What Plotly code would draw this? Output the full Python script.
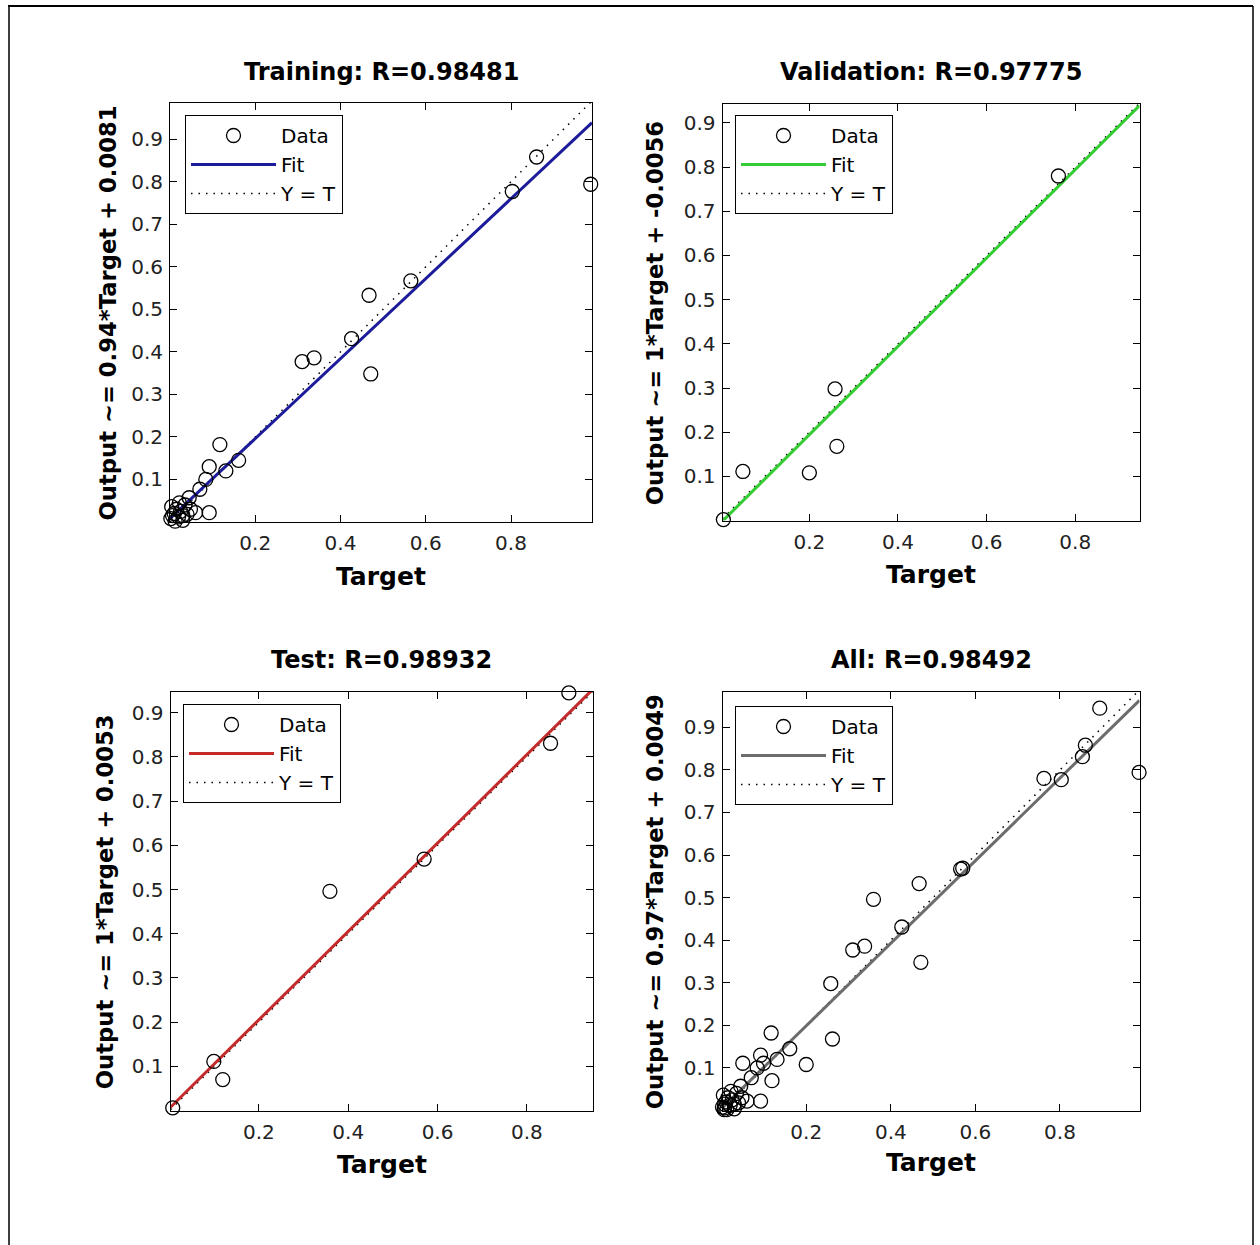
import plotly.graph_objects as go

W, H = 1260, 1245

# ---------------- data ----------------
train_target = [0.860, 0.987, 0.803, 0.565, 0.467, 0.426, 0.310, 0.338, 0.471,
                0.117, 0.161, 0.092, 0.131, 0.084, 0.070, 0.045, 0.092, 0.060,
                0.004, 0.010, 0.002, 0.015, 0.020, 0.025, 0.030, 0.035, 0.040,
                0.012, 0.048, 0.022, 0.006, 0.030]
train_output = [0.858, 0.794, 0.777, 0.567, 0.533, 0.431, 0.377, 0.386, 0.348,
                0.182, 0.145, 0.130, 0.120, 0.100, 0.077, 0.057, 0.022, 0.022,
                0.036, 0.020, 0.008, 0.030, 0.012, 0.025, 0.004, 0.040, 0.018,
                0.002, 0.030, 0.045, 0.015, 0.015]

val_target = [0.762, 0.258, 0.262, 0.200, 0.050, 0.006]
val_output = [0.780, 0.298, 0.168, 0.108, 0.111, 0.002]

test_target = [0.894, 0.853, 0.570, 0.359, 0.099, 0.119, 0.007]
test_output = [0.945, 0.831, 0.569, 0.496, 0.111, 0.070, 0.006]

all_target = train_target + val_target + test_target
all_output = train_output + val_output + test_output

panel_names = ["Training", "Validation", "Test", "All"]
panel_r = ["0.98481", "0.97775", "0.98932", "0.98492"]
fit_slope = [0.94, 1, 1, 0.97]
fit_intercept = [0.0081, -0.0056, 0.0053, 0.0049]
fit_colors = ["#1c1c9a", "#33cc33", "#c42a2a", "#6c6c6c"]

x_tick_vals = [0.2, 0.4, 0.6, 0.8]
x_tick_text = ["0.2", "0.4", "0.6", "0.8"]
y_tick_vals = [0.1, 0.2, 0.3, 0.4, 0.5, 0.6, 0.7, 0.8, 0.9]
y_tick_text = ["0.1", "0.2", "0.3", "0.4", "0.5", "0.6", "0.7", "0.8", "0.9"]

x_ranges = [[0.0, 0.99], [0.004, 0.945], [0.002, 0.947], [0.002, 0.988]]
y_ranges = [[0.0, 0.985], [0.0, 0.943], [0.0, 0.947], [0.0, 0.983]]

datasets = [(train_target, train_output), (val_target, val_output),
            (test_target, test_output), (all_target, all_output)]

# ---------------- layout geometry (pixels) ----------------
boxes = [  # left, right, top, bottom
    (170, 592, 103, 522),
    (722.5, 1139.5, 104, 520.5),
    (170.5, 592.5, 692, 1110.5),
    (722.5, 1139.5, 692, 1110.5),
]
legend_pos = [(185, 115), (735, 115), (183, 704), (735, 706)]
title_y = [72, 72, 660, 660]
xlabel_y = [576, 574, 1164, 1162]
ylabel_x = [107, 655, 105, 655]

FONT = "DejaVu Sans"

fig = go.Figure()
annotations = []
layout_axes = {}

for i in range(4):
    ax = "" if i == 0 else str(i + 1)
    xref, yref = "x" + ax, "y" + ax
    leg = "legend" if i == 0 else "legend" + str(i + 1)
    t, o = datasets[i]
    xr = x_ranges[i]
    lo, hi = xr[0], xr[1]
    top = max(hi, y_ranges[i][1])

    # Y = T line
    fig.add_trace(go.Scatter(
        x=[lo, top], y=[lo, top],
        mode="lines", name="Y = T",
        line=dict(color="black", width=1.5, dash="1.5px,6px"),
        xaxis=xref, yaxis=yref, legend=leg, legendrank=3,
        legendgroup=f"yt{i}", hoverinfo="skip"))
    # Fit line
    fx = [lo, hi]
    fy = [fit_slope[i] * v + fit_intercept[i] for v in fx]
    fig.add_trace(go.Scatter(
        x=fx, y=fy, mode="lines", name="Fit",
        line=dict(color=fit_colors[i], width=3),
        xaxis=xref, yaxis=yref, legend=leg, legendrank=2,
        legendgroup=f"fit{i}"))
    # Data
    fig.add_trace(go.Scatter(
        x=t, y=o, mode="markers", name="Data",
        marker=dict(symbol="circle-open", size=14, color="black",
                    line=dict(width=1.3, color="black")),
        cliponaxis=False,
        xaxis=xref, yaxis=yref, legend=leg, legendrank=1,
        legendgroup=f"data{i}"))

    l, r, tp, b = boxes[i]
    axis_common = dict(showline=True, linecolor="black", linewidth=1,
                       mirror="allticks", ticks="inside", ticklen=7,
                       tickcolor="black", showgrid=False, zeroline=False,
                       tickfont=dict(family=FONT, size=20, color="#222222"))
    layout_axes["xaxis" + ax] = dict(
        domain=[l / W, r / W], range=xr, anchor=yref,
        tickvals=x_tick_vals, ticktext=x_tick_text, ticklabelstandoff=3,
        **axis_common)
    layout_axes["yaxis" + ax] = dict(
        domain=[1 - b / H, 1 - tp / H], range=y_ranges[i], anchor=xref,
        tickvals=y_tick_vals, ticktext=y_tick_text, ticklabelstandoff=2,
        **axis_common)

    lx, ly = legend_pos[i]
    layout_axes[leg] = dict(
        x=lx / W, y=1 - ly / H, xanchor="left", yanchor="top",
        bgcolor="white", bordercolor="black", borderwidth=1,
        font=dict(family=FONT, size=20, color="black"),
        itemwidth=85, tracegroupgap=11, traceorder="normal")

    cx = (l + r) / 2 / W
    annotations.append(dict(
        text=f"{panel_names[i]}: R={panel_r[i]}", x=cx, y=1 - title_y[i] / H,
        xref="paper", yref="paper", showarrow=False, xanchor="center",
        yanchor="middle",
        font=dict(family=FONT, size=24, color="black", weight="bold")))
    annotations.append(dict(
        text="Target", x=cx, y=1 - xlabel_y[i] / H,
        xref="paper", yref="paper", showarrow=False, xanchor="center",
        yanchor="middle",
        font=dict(family=FONT, size=25, color="black", weight="bold")))
    ylabel = f"Output ~= {fit_slope[i]:g}*Target + {fit_intercept[i]:g}"
    annotations.append(dict(
        text=ylabel, x=ylabel_x[i] / W, y=1 - ((tp + b) / 2 + 1) / H,
        xref="paper", yref="paper", showarrow=False, textangle=-90,
        xanchor="center", yanchor="middle",
        font=dict(family=FONT, size=22.7, color="black", weight="bold")))

shapes = [
    dict(type="line", xref="paper", yref="paper", x0=8 / W, x1=1253 / W,
         y0=1 - 6 / H, y1=1 - 6 / H, line=dict(color="black", width=2)),
    dict(type="line", xref="paper", yref="paper", x0=9 / W, x1=9 / W,
         y0=1 - 6 / H, y1=-0.05, line=dict(color="black", width=1.5)),
    dict(type="line", xref="paper", yref="paper", x0=1253 / W, x1=1253 / W,
         y0=1 - 6 / H, y1=-0.05, line=dict(color="black", width=1.5)),
]

fig.update_layout(
    width=W, height=H, margin=dict(l=0, r=0, t=0, b=0),
    paper_bgcolor="white", plot_bgcolor="white",
    annotations=annotations, shapes=shapes,
    **layout_axes)

fig.write_html("out.html", config={"displayModeBar": False},
               post_script="document.body.style.margin='0px';")
